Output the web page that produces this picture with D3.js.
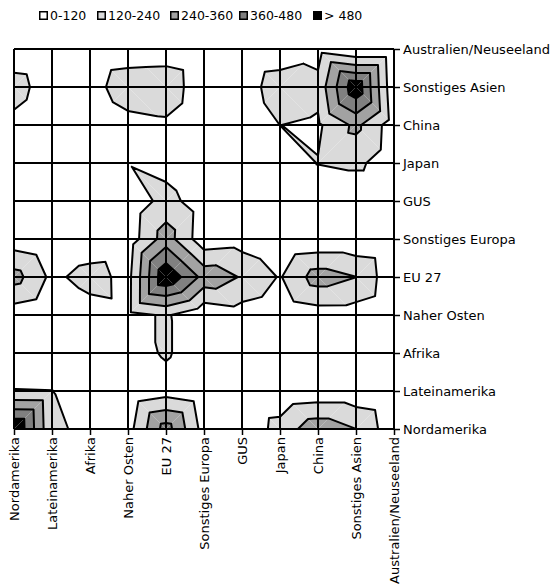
<!DOCTYPE html>
<html><head><meta charset="utf-8">
<script src="https://cdn.jsdelivr.net/npm/d3@7"></script>
<style>
body{margin:0;background:#fff}
text{font-family:"DejaVu Sans",sans-serif;fill:#000}
</style>
</head><body>
<svg id="chart" width="556" height="588"></svg>
<script>
// Categories (same for both axes)
const categories = ["Nordamerika","Lateinamerika","Afrika","Naher Osten","EU 27","Sonstiges Europa","GUS","Japan","China","Sonstiges Asien","Australien/Neuseeland"];
const thresholds = [120, 240, 360, 480];
const legendLabels = ["0-120","120-240","240-360","360-480","> 480"];

// Values per row category (y axis), listed across the column categories (x axis)
const rowNordamerika     = [612,135,100, 70,415, 70, 16,169,320,241, 33];
const rowLateinamerika   = [125,122, 20, 10, 65, 10,  0, 16, 37, 33,  0];
const rowAfrika          = [ 30, 30,  0, 64,135, 41,  0,  0,  0,  0,  0];
const rowNaherOsten      = [ 48,  0, 60, 82,135, 26, 63, 20, 60, 58,  0];
const rowEU27            = [290, 90,170, 80,586,320,230,110,300,241, 22];
const rowSonstEuropa     = [ 48,  0, 30, 46,300, 40, 63,  0, 20, 22,  0];
const rowGUS             = [  0,  0,  0, 33,165, 50,  0,  0,  0,  0,  0];
const rowJapan           = [  0,  0,  0,115, 75,  0,  0, 20,125,150, 40];
const rowChina           = [ 80,  0,  0, 73, 96,  0, 10,121,100,270, 50];
const rowSonstAsien      = [180, 37, 62,200,210, 19, 40,200,160,570, 20];
const rowAustralien      = [ 20,  0, 20, 40, 46, 10,  0, 22, 70,  0,  0];

const values = [rowNordamerika,rowLateinamerika,rowAfrika,rowNaherOsten,rowEU27,rowSonstEuropa,rowGUS,rowJapan,rowChina,rowSonstAsien,rowAustralien];

const bandColors = ["#ffffff","#dadada","#a2a2a2","#808080","#000000"];

const svg = d3.select("#chart");
const x = d3.scalePoint().domain(categories).range([14, 394]);
const y = d3.scalePoint().domain(categories).range([429, 49]);
const xi = d3.scaleLinear().domain([0, categories.length - 1]).range(x.range());
const yi = d3.scaleLinear().domain([0, categories.length - 1]).range(y.range());

function clip(poly, f) {
  const out = [];
  for (let i = 0; i < poly.length; i++) {
    const p = poly[i], q = poly[(i + 1) % poly.length];
    const fp = f(p), fq = f(q);
    if (fp >= 0) out.push(p);
    if ((fp >= 0) !== (fq >= 0)) {
      const t = fp / (fp - fq);
      out.push([p[0] + t * (q[0] - p[0]), p[1] + t * (q[1] - p[1]), p[2] + t * (q[2] - p[2])]);
    }
  }
  return out;
}

// build triangles (split each cell along the diagonal with larger sum)
const n = categories.length;
const triangles = [];
for (let r = 0; r < n - 1; r++) {
  for (let c = 0; c < n - 1; c++) {
    const A = [c, r, values[r][c]], B = [c + 1, r, values[r][c + 1]];
    const C = [c + 1, r + 1, values[r + 1][c + 1]], D = [c, r + 1, values[r + 1][c]];
    if (A[2] + C[2] >= B[2] + D[2]) { triangles.push([A, B, C], [A, C, D]); }
    else { triangles.push([A, B, D], [B, C, D]); }
  }
}

const fills = svg.append("g");
const line = d3.line().x(p => xi(p[0])).y(p => yi(p[1]));
triangles.forEach(tri => {
  for (let k = 1; k < bandColors.length; k++) {
    const lo = thresholds[k - 1];
    const hi = k < thresholds.length ? thresholds[k] : Infinity;
    let poly = clip(tri, p => p[2] - lo);
    if (poly.length >= 3 && hi !== Infinity) poly = clip(poly, p => hi - p[2]);
    if (poly.length >= 3) {
      fills.append("path").attr("d", line(poly) + "Z").attr("fill", bandColors[k]);
    }
  }
});

// contour lines
let segs = "";
triangles.forEach(tri => {
  thresholds.forEach(t => {
    const pts = [];
    for (let i = 0; i < 3; i++) {
      const p = tri[i], q = tri[(i + 1) % 3];
      const ap = p[2] >= t, aq = q[2] >= t;
      if (ap !== aq) {
        const s = (t - p[2]) / (q[2] - p[2]);
        pts.push([p[0] + s * (q[0] - p[0]), p[1] + s * (q[1] - p[1])]);
      }
    }
    if (pts.length === 2) segs += line(pts);
  });
});
svg.append("path").attr("d", segs).attr("fill", "none").attr("stroke", "#000")
  .attr("stroke-width", 2).attr("stroke-linecap", "round").attr("stroke-linejoin", "round");

// grid
const grid = svg.append("g").attr("stroke", "#000").attr("stroke-width", 2);
categories.forEach(cat => {
  grid.append("line").attr("x1", x(cat)).attr("x2", x(cat)).attr("y1", y.range()[1]).attr("y2", y.range()[0]);
  grid.append("line").attr("y1", y(cat)).attr("y2", y(cat)).attr("x1", x.range()[0]).attr("x2", x.range()[1]);
});

// axes
const xAxis = svg.append("g").attr("transform", `translate(0,${y.range()[0]})`)
  .call(d3.axisBottom(x).tickSize(6).tickSizeOuter(0));
xAxis.select(".domain").remove();
xAxis.selectAll("line").attr("stroke", "#000").attr("stroke-width", 1.5);
xAxis.selectAll("text").attr("transform", "rotate(-90)").attr("text-anchor", "end")
  .attr("x", -8).attr("y", 0).attr("dy", "0.35em").style("font-size", "13px").attr("font-family", null);

const yAxis = svg.append("g").attr("transform", `translate(${x.range()[1]},0)`)
  .call(d3.axisRight(y).tickSize(6).tickSizeOuter(0));
yAxis.select(".domain").remove();
yAxis.selectAll("line").attr("stroke", "#000").attr("stroke-width", 1.5);
yAxis.selectAll("text").attr("x", 9).style("font-size", "13px").attr("font-family", null);

// legend
const legendX = [39, 97, 170, 239, 313];
const legend = svg.append("g");
legendLabels.forEach((lab, i) => {
  legend.append("rect").attr("x", legendX[i] + 0.75).attr("y", 11.75).attr("width", 7.5).attr("height", 7.5)
    .attr("fill", bandColors[i]).attr("stroke", "#000").attr("stroke-width", 1.5);
  legend.append("text").attr("x", legendX[i] + 11).attr("y", 20).style("font-size", "12.5px").text(lab);
});
</script>
</body></html>
